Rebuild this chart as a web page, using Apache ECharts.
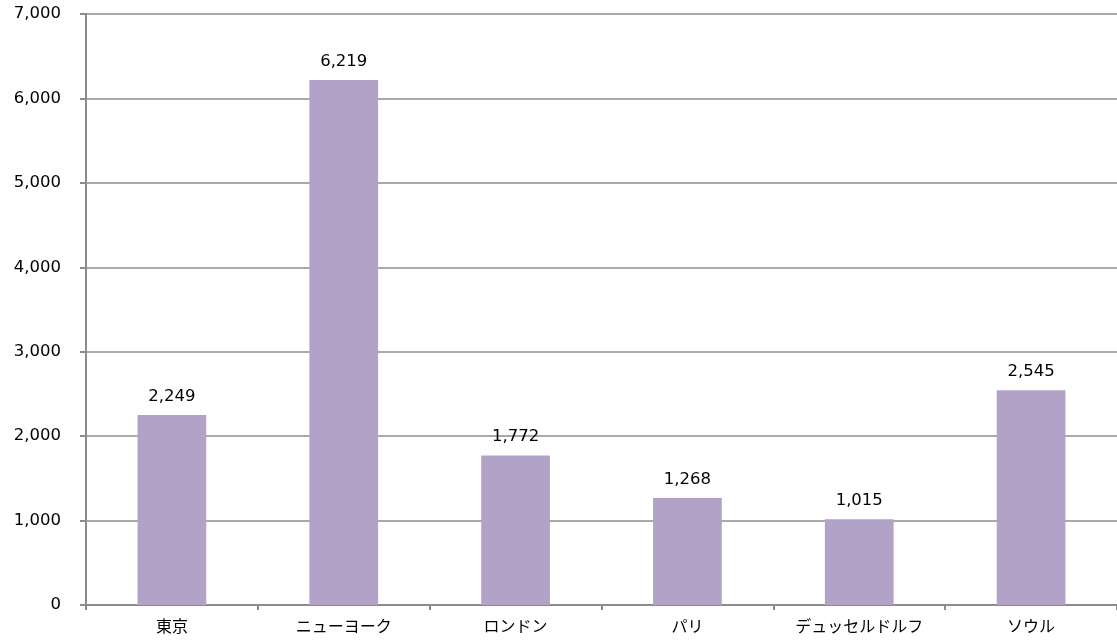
<!DOCTYPE html>
<html><head><meta charset="utf-8">
<script src="https://cdn.jsdelivr.net/npm/echarts@6/dist/echarts.min.js"></script>
<style>html,body{margin:0;padding:0;background:#fff}#c{width:1117px;height:641px}</style>
</head><body><div id="c"></div>
<script>
const categories = ['東京', 'ニューヨーク', 'ロンドン', 'パリ', 'デュッセルドルフ', 'ソウル'];
const values = [2249, 6219, 1772, 1268, 1015, 2545];
const yTicks = [0, 1000, 2000, 3000, 4000, 5000, 6000, 7000];

const chart = echarts.init(document.getElementById('c'));
chart.setOption({
  animation: false,
  grid: { left: 86, right: -5, top: 14, bottom: 36 },
  xAxis: {
    type: 'category',
    data: categories,
    axisLine: { lineStyle: { color: '#8c8c8c', width: 2 } },
    axisTick: { show: true, length: 5, lineStyle: { color: '#8c8c8c', width: 2 } },
    axisLabel: { color: '#000', fontSize: 16, fontFamily: 'Noto Sans CJK JP', margin: 13 }
  },
  yAxis: {
    type: 'value',
    min: yTicks[0], max: yTicks[yTicks.length - 1], interval: 1000,
    axisLine: { show: true, lineStyle: { color: '#8c8c8c', width: 2 } },
    axisTick: { show: true, length: 6, inside: false, lineStyle: { color: '#8c8c8c', width: 2 } },
    splitLine: { lineStyle: { color: '#8c8c8c', width: 1.5 } },
    axisLabel: {
      color: '#000', fontSize: 16.5, fontFamily: 'DejaVu Sans', margin: 25,
      formatter: v => v.toLocaleString('en-US')
    }
  },
  series: [{
    type: 'bar',
    data: values,
    barWidth: '40%',
    itemStyle: { color: '#b3a2c7' },
    label: {
      show: true, position: 'top', distance: 10,
      color: '#000', fontSize: 16.5, fontFamily: 'DejaVu Sans',
      formatter: p => p.value.toLocaleString('en-US')
    }
  }]
});
</script></body></html>
